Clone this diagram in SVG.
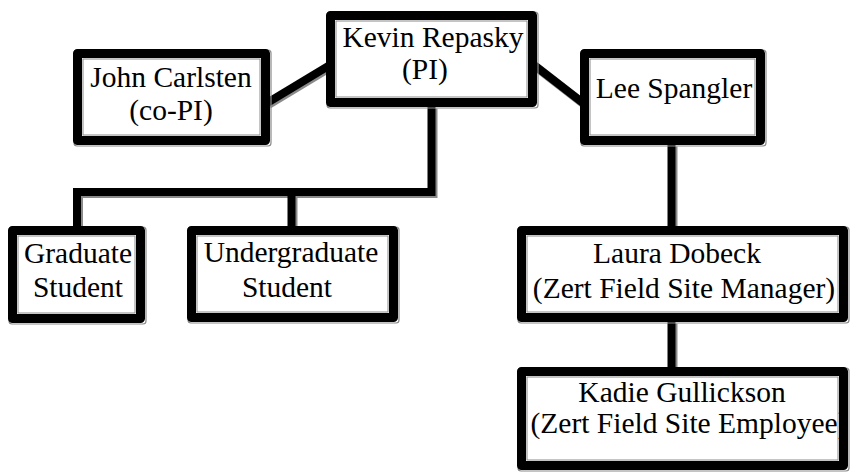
<svg xmlns="http://www.w3.org/2000/svg" width="850" height="472" viewBox="0 0 850 472">
<style>
  .frame{fill:#fff;stroke:#000;stroke-width:9;stroke-linejoin:round}
  .inner{fill:none;stroke:#8a8a8a;stroke-width:1}
  .shadow{fill:none;stroke:#8a8a8a;stroke-width:1.2}
  .lbl{font-family:"Liberation Serif","Times New Roman",serif;font-size:29.5px;fill:#000;text-anchor:middle}
  .cshadow{fill:none;stroke:#8a8a8a;stroke-width:9}
  .conn{fill:none;stroke:#000;stroke-width:8}
</style>
<rect width="850" height="472" fill="#fff"/>
<g id="connectors">
  <g transform="translate(1.5,1.5)">
    <path class="cshadow" d="M330,65 L267,103"/>
    <path class="cshadow" d="M534,65 L583,103"/>
    <path class="cshadow" d="M431.5,107 V192 H77 V228"/>
    <path class="cshadow" d="M291.5,192 V228"/>
    <path class="cshadow" d="M671.5,145 V228"/>
    <path class="cshadow" d="M671.5,322 V369"/>
  </g>
  <path class="conn" d="M330,65 L267,103"/>
  <path class="conn" d="M534,65 L583,103"/>
  <path class="conn" d="M431.5,107 V192 H77 V228"/>
  <path class="conn" d="M291.5,192 V228"/>
  <path class="conn" d="M671.5,145 V228"/>
  <path class="conn" d="M671.5,322 V369"/>
</g>
<g id="kevin">
  <rect class="shadow" x="327" y="12" width="211" height="96" rx="3"/>
  <rect class="frame" x="330.5" y="15.5" width="202" height="87"/>
  <rect class="inner" x="336" y="21" width="191" height="76"/>
  <text class="lbl" x="433" y="47">Kevin Repasky</text>
  <text class="lbl" x="425" y="79">(PI)</text>
</g>
<g id="john">
  <rect class="shadow" x="74" y="50" width="197" height="96" rx="3"/>
  <rect class="frame" x="77.5" y="53.5" width="188" height="87"/>
  <rect class="inner" x="83" y="59" width="177" height="76"/>
  <text class="lbl" x="171" y="87">John Carlsten</text>
  <text class="lbl" x="171" y="120">(co-PI)</text>
</g>
<g id="lee">
  <rect class="shadow" x="581" y="50" width="185" height="96" rx="3"/>
  <rect class="frame" x="584.5" y="53.5" width="176" height="87"/>
  <rect class="inner" x="590" y="59" width="165" height="76"/>
  <text class="lbl" x="674" y="98">Lee Spangler</text>
</g>
<g id="graduate">
  <rect class="shadow" x="9" y="227" width="137" height="97" rx="3"/>
  <rect class="frame" x="12.5" y="230.5" width="128" height="88"/>
  <rect class="inner" x="18" y="236" width="117" height="77"/>
  <text class="lbl" x="78" y="263">Graduate</text>
  <text class="lbl" x="78" y="297">Student</text>
</g>
<g id="undergraduate">
  <rect class="shadow" x="188" y="227" width="211" height="96" rx="3"/>
  <rect class="frame" x="191.5" y="230.5" width="202" height="87"/>
  <rect class="inner" x="197" y="236" width="191" height="76"/>
  <text class="lbl" x="291" y="262">Undergraduate</text>
  <text class="lbl" x="287" y="297">Student</text>
</g>
<g id="laura">
  <rect class="shadow" x="518" y="227" width="331" height="96" rx="3"/>
  <rect class="frame" x="521.5" y="230.5" width="322" height="87"/>
  <rect class="inner" x="527" y="236" width="311" height="76"/>
  <text class="lbl" x="677" y="263">Laura Dobeck</text>
  <text class="lbl" x="684" y="298">(Zert Field Site Manager)</text>
</g>
<g id="kadie">
  <rect class="shadow" x="518" y="368" width="331" height="103" rx="3"/>
  <rect class="frame" x="521.5" y="371.5" width="322" height="94"/>
  <rect class="inner" x="527" y="377" width="311" height="83"/>
  <text class="lbl" x="682" y="402">Kadie Gullickson</text>
  <text class="lbl" x="689" y="433">(Zert Field Site Employee)</text>
</g>
</svg>
